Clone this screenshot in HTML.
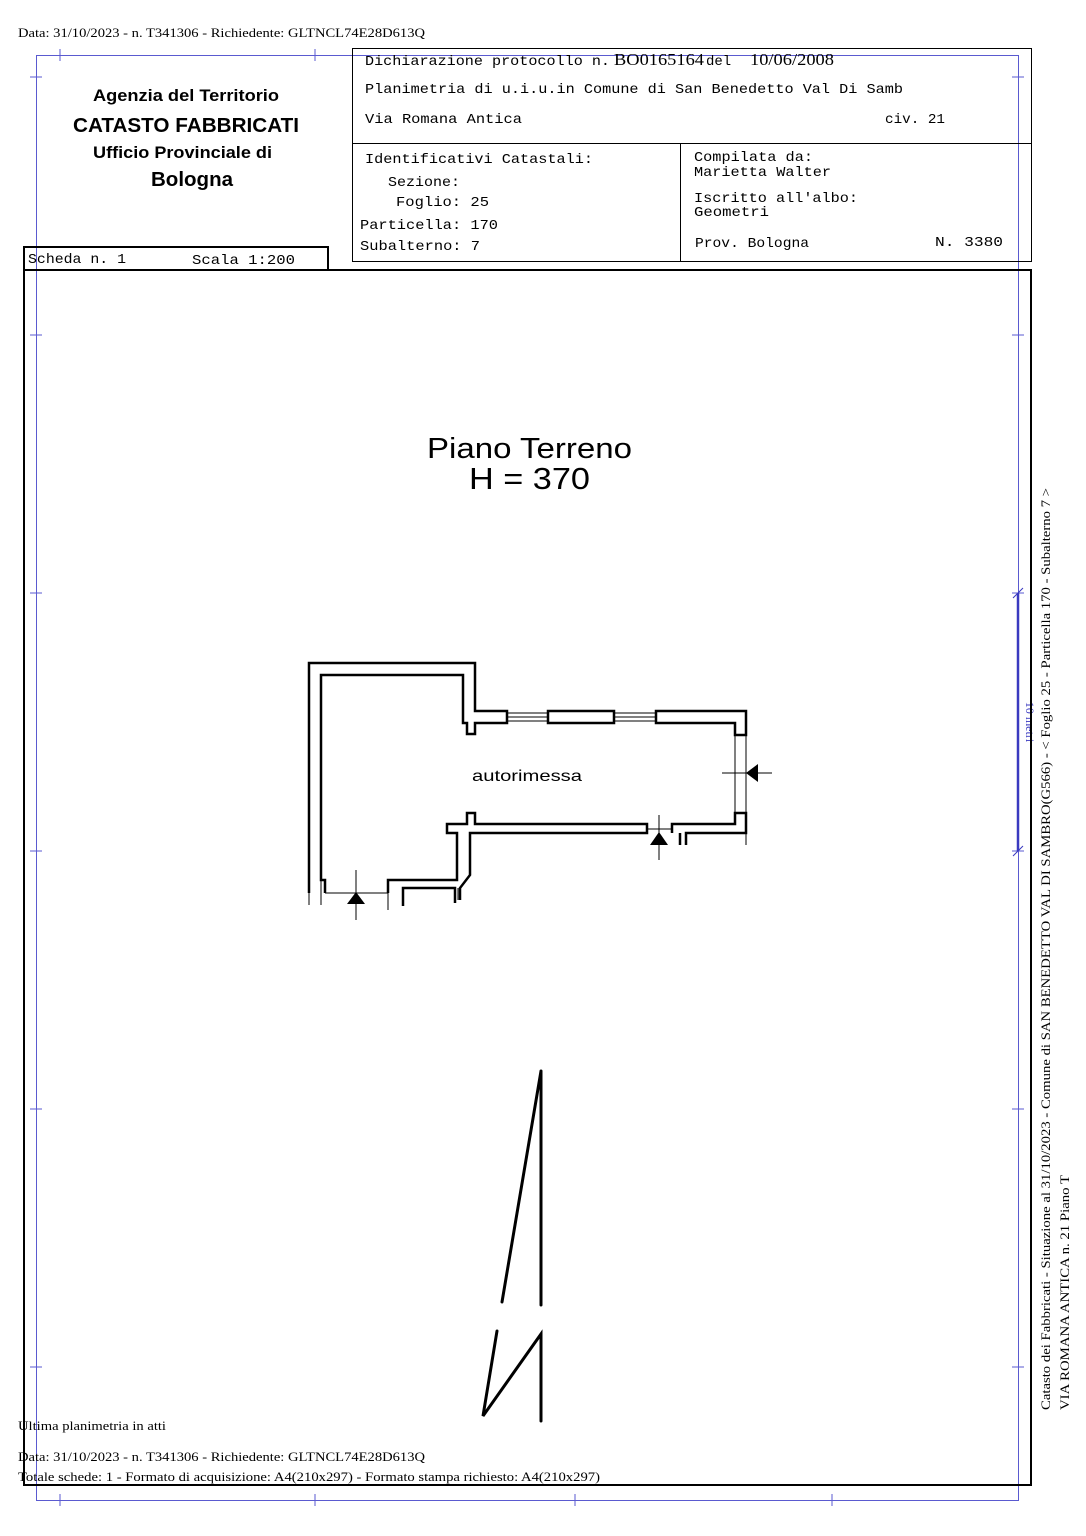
<!DOCTYPE html>
<html><head><meta charset="utf-8"><style>
html,body{margin:0;padding:0;background:#fff}
svg{display:block}
.m{font-family:"Liberation Mono",monospace;font-size:14px;fill:#000}
.s{font-family:"Liberation Serif",serif;fill:#000}
.h{font-family:"Liberation Sans",sans-serif;fill:#000}
</style></head><body>
<svg width="1086" height="1536" viewBox="0 0 1086 1536" xmlns="http://www.w3.org/2000/svg">
<rect width="1086" height="1536" fill="#fff"/>
<g stroke="#5a5ad0" stroke-width="1" fill="none">
<rect x="36.5" y="55.5" width="982" height="1445"/>
<path d="M60 49v12M315 49v12M60 1494v12M315 1494v12M575 1494v12M832 1494v12"/>
<path d="M30 77h12M30 335h12M30 593h12M30 851h12M30 1109h12M30 1367h12"/>
<path d="M1012 77h12M1012 335h12M1012 593h12M1012 851h12M1012 1109h12M1012 1367h12"/>
</g>
<path d="M1018 593V851" stroke="#3a3ac0" stroke-width="2.5"/>
<path d="M1013 598l10-10M1013 856l10-10" stroke="#3a3ac0" stroke-width="1"/>
<text transform="translate(1026,722) rotate(90)" text-anchor="middle" class="s" font-size="12" style="fill:#3a3ac0">10 metri</text>

<text x="18" y="37" class="s" font-size="13" textLength="407" lengthAdjust="spacingAndGlyphs">Data: 31/10/2023 - n. T341306 - Richiedente: GLTNCL74E28D613Q</text>

<g stroke="#000" fill="none" stroke-width="1">
<rect x="352.5" y="48.5" width="679" height="213"/>
<path d="M352 143.5H1031M680.5 143V262"/>
</g>
<rect x="24" y="247" width="304" height="23" fill="none" stroke="#000" stroke-width="2"/>
<rect x="24" y="270" width="1007" height="1215" fill="none" stroke="#000" stroke-width="2"/>

<g class="h" font-weight="bold">
<text x="93" y="101" font-size="17" textLength="186" lengthAdjust="spacingAndGlyphs">Agenzia del Territorio</text>
<text x="73" y="132" font-size="20" textLength="226" lengthAdjust="spacingAndGlyphs">CATASTO FABBRICATI</text>
<text x="93" y="158" font-size="17" textLength="179" lengthAdjust="spacingAndGlyphs">Ufficio Provinciale di</text>
<text x="151" y="186" font-size="20" textLength="82" lengthAdjust="spacingAndGlyphs">Bologna</text>
</g>

<text x="365" y="65" class="m" textLength="245" lengthAdjust="spacingAndGlyphs">Dichiarazione protocollo n.</text>
<text x="614" y="65" class="s" font-size="17" textLength="90" lengthAdjust="spacingAndGlyphs">BO0165164</text>
<text x="706" y="65" class="m">del</text>
<text x="750" y="65" class="s" font-size="17" textLength="84" lengthAdjust="spacingAndGlyphs">10/06/2008</text>
<text x="365" y="93" class="m" textLength="538" lengthAdjust="spacingAndGlyphs">Planimetria di u.i.u.in Comune di San Benedetto Val Di Samb</text>
<text x="365" y="123" class="m" textLength="157" lengthAdjust="spacingAndGlyphs">Via Romana Antica</text>
<text x="885" y="123" class="m" textLength="60" lengthAdjust="spacingAndGlyphs">civ. 21</text>
<text x="365" y="163" class="m" textLength="228" lengthAdjust="spacingAndGlyphs">Identificativi Catastali:</text>
<text x="388" y="186" class="m" textLength="72" lengthAdjust="spacingAndGlyphs">Sezione:</text>
<text x="396" y="206" class="m" textLength="93" lengthAdjust="spacingAndGlyphs">Foglio: 25</text>
<text x="360" y="229" class="m" textLength="138" lengthAdjust="spacingAndGlyphs">Particella: 170</text>
<text x="360" y="250" class="m" textLength="120" lengthAdjust="spacingAndGlyphs">Subalterno: 7</text>
<text x="694" y="161" class="m" textLength="119" lengthAdjust="spacingAndGlyphs">Compilata da:</text>
<text x="694" y="176" class="m" textLength="137" lengthAdjust="spacingAndGlyphs">Marietta Walter</text>
<text x="694" y="202" class="m" textLength="164" lengthAdjust="spacingAndGlyphs">Iscritto all'albo:</text>
<text x="694" y="216" class="m" textLength="75" lengthAdjust="spacingAndGlyphs">Geometri</text>
<text x="695" y="247" class="m" textLength="114" lengthAdjust="spacingAndGlyphs">Prov. Bologna</text>
<text x="935" y="246" class="m" textLength="68" lengthAdjust="spacingAndGlyphs">N.  3380</text>
<text x="28" y="263" class="m" textLength="98" lengthAdjust="spacingAndGlyphs">Scheda n. 1</text>
<text x="192" y="264" class="m" textLength="103" lengthAdjust="spacingAndGlyphs">Scala 1:200</text>

<text x="427" y="458" class="h" font-size="29" textLength="205" lengthAdjust="spacingAndGlyphs">Piano Terreno</text>
<text x="469" y="489" class="h" font-size="31" textLength="121" lengthAdjust="spacingAndGlyphs">H = 370</text>

<g stroke="#000" stroke-width="2.5" fill="none" stroke-linejoin="miter">
<path d="M309 893V663H475V711H507V723H475V734H467V723H463V675H321V880H325V893"/>
<path d="M388 893V880H457V833H447V824H467V813H475V824H647V833H470V875L460 888V900"/>
<path d="M403 906V888H455V903"/>
<path d="M548 711H614V723H548Z"/>
<path d="M656 711H746V735H735V723H656Z"/>
<path d="M672 833V824H735V813H746V833H686V845M680 833V845"/>
</g>
<g stroke="#000" stroke-width="1" fill="none">
<path d="M507 713H548M507 717H548M507 721H548M614 713H656M614 717H656M614 721H656"/>
<path d="M735 735V813M746 735V813M746 833V845"/>
<path d="M321 880V905M325 893H388M388 893V910M309 893V905M458 888V900"/>
<path d="M647 829H672M659 815V860"/>
<path d="M722 773H772"/>
<path d="M356 870V920"/>
</g>
<polygon points="659,832 650,845 668,845" fill="#000"/>
<polygon points="746,773 758,764 758,782" fill="#000"/>
<polygon points="356,892 347,904 365,904" fill="#000"/>
<text x="472" y="781" class="h" font-size="16" textLength="110" lengthAdjust="spacingAndGlyphs">autorimessa</text>

<g stroke="#000" stroke-width="3" fill="none" stroke-linecap="round">
<path d="M541 1071L502 1302M541 1071V1305"/>
<path d="M497 1331L483 1416L541 1334V1421"/>
</g>

<text transform="translate(1050,1410) rotate(-90)" class="s" font-size="13" textLength="922" lengthAdjust="spacingAndGlyphs">Catasto dei Fabbricati - Situazione al 31/10/2023 - Comune di SAN BENEDETTO VAL DI SAMBRO(G566) - &lt; Foglio 25 - Particella  170 - Subalterno 7 &gt;</text>
<text transform="translate(1069,1410) rotate(-90)" class="s" font-size="13" textLength="235" lengthAdjust="spacingAndGlyphs">VIA ROMANA ANTICA n. 21 Piano T</text>

<text x="18" y="1430" class="s" font-size="13" textLength="148" lengthAdjust="spacingAndGlyphs">Ultima planimetria in atti</text>
<text x="18" y="1461" class="s" font-size="13" textLength="407" lengthAdjust="spacingAndGlyphs">Data: 31/10/2023 - n. T341306 - Richiedente: GLTNCL74E28D613Q</text>
<text x="18" y="1481" class="s" font-size="13" textLength="582" lengthAdjust="spacingAndGlyphs">Totale schede: 1 - Formato di acquisizione: A4(210x297)  - Formato stampa richiesto: A4(210x297)</text>
</svg>
</body></html>
